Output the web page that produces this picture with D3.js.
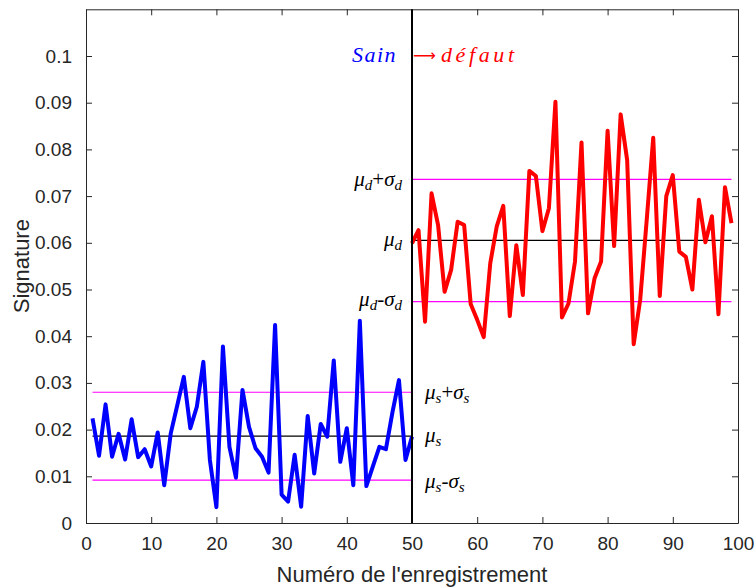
<!DOCTYPE html>
<html><head><meta charset="utf-8">
<script src="https://cdn.jsdelivr.net/npm/d3@7"></script>
<style>body{margin:0;background:#fff}svg{display:block}</style>
</head><body><svg id="c" width="755" height="587"></svg>
<script>
// ---- data ----
const sainX = d3.range(1, 51);
const sainY = [0.0224,0.0144,0.0254,0.0142,0.0191,0.0136,0.0222,0.0141,0.0158,0.0121,
  0.0194,0.0081,0.0192,0.0252,0.0313,0.0203,0.0249,0.0345,0.0135,0.0034,
  0.0378,0.0163,0.0097,0.0285,0.0206,0.0160,0.0142,0.0108,0.0424,0.0061,
  0.0046,0.0146,0.0035,0.0229,0.0106,0.0212,0.0185,0.0348,0.0131,0.0203,
  0.0081,0.0433,0.0079,0.0121,0.0163,0.0158,0.0237,0.0306,0.0135,0.0185];
const defautX = d3.range(50, 100);
const defautY = [0.0599,0.0627,0.0431,0.0706,0.0638,0.0495,0.0542,0.0645,0.0638,0.0469,
  0.0435,0.0398,0.0556,0.0635,0.0679,0.0443,0.0595,0.0488,0.0754,0.0743,
  0.0625,0.0674,0.0902,0.0440,0.0470,0.0560,0.0815,0.0449,0.0524,0.0560,
  0.0840,0.0593,0.0875,0.0777,0.0383,0.0478,0.0649,0.0825,0.0486,0.0700,
  0.0745,0.0581,0.0570,0.0500,0.0692,0.0601,0.0657,0.0447,0.0719,0.0642];
const muS = 0.0186, sigS = 0.0094;
const muD = 0.0605, sigD = 0.0131;
const xTicks = [0,10,20,30,40,50,60,70,80,90,100];
const xTickLabels = ["0","10","20","30","40","50","60","70","80","90","100"];
const yTicks = [0,0.01,0.02,0.03,0.04,0.05,0.06,0.07,0.08,0.09,0.1];
const yTickLabels = ["0","0.01","0.02","0.03","0.04","0.05","0.06","0.07","0.08","0.09","0.1"];
const xLabel = "Numéro de l'enregistrement";
const yLabel = "Signature";

// ---- layout ----
const L = 86, R = 738, T = 9.3, B = 523;
const svg = d3.select("#c");
const x = d3.scaleLinear().domain([0,100]).range([L,R]);
const y = d3.scaleLinear().domain([0,0.11]).range([B,T]);
const axisCol = "#262626";
const tickFont = "'Liberation Sans', Arial, Helvetica, sans-serif";

// axes with inward ticks
const gx = svg.append("g").attr("transform",`translate(0,${B})`)
  .call(d3.axisBottom(x).tickValues(xTicks).tickFormat((d,i)=>xTickLabels[i]).tickSizeInner(-6).tickSizeOuter(0).tickPadding(14));
const gxt = svg.append("g").attr("transform",`translate(0,${T})`)
  .call(d3.axisTop(x).tickValues(xTicks).tickFormat("").tickSizeInner(-6).tickSizeOuter(0));
const gy = svg.append("g").attr("transform",`translate(${L},0)`)
  .call(d3.axisLeft(y).tickValues(yTicks).tickFormat((d,i)=>yTickLabels[i]).tickSizeInner(-6).tickSizeOuter(0).tickPadding(14));
const gyr = svg.append("g").attr("transform",`translate(${R},0)`)
  .call(d3.axisRight(y).tickValues(yTicks).tickFormat("").tickSizeInner(-6).tickSizeOuter(0));
[gx,gxt,gy,gyr].forEach(g=>{
  g.select(".domain").attr("stroke",axisCol).attr("stroke-width",1);
  g.selectAll(".tick line").attr("stroke",axisCol).attr("stroke-width",1);
  g.selectAll("text").attr("fill",axisCol).style("font-family",tickFont).style("font-size","19px");
});

// axis labels
svg.append("text").attr("x",(L+R)/2).attr("y",582).attr("text-anchor","middle")
  .attr("fill",axisCol).style("font-family",tickFont).style("font-size","22px").text(xLabel);
svg.append("text").attr("transform",`translate(29,${(T+B)/2}) rotate(-90)`).attr("text-anchor","middle")
  .attr("fill",axisCol).style("font-family",tickFont).style("font-size","22px").text(yLabel);

// reference lines
const hl = (x0,x1,v,col)=>svg.append("line").attr("x1",x(x0)).attr("x2",x(x1)).attr("y1",y(v)).attr("y2",y(v))
  .attr("stroke",col).attr("stroke-width",1.2);
hl(1,50,muS+sigS,"#ff00ff"); hl(1,50,muS-sigS,"#ff00ff"); hl(1,50,muS,"#000");
hl(50,99,muD+sigD,"#ff00ff"); hl(50,99,muD-sigD,"#ff00ff"); hl(50,99,muD,"#000");

// series
const line = d3.line().x(d=>x(d[0])).y(d=>y(d[1]));
svg.append("path").datum(sainX.map((d,i)=>[d,sainY[i]])).attr("d",line)
  .attr("fill","none").attr("stroke","#0000ff").attr("stroke-width",4).attr("stroke-linejoin","round");
svg.append("path").datum(defautX.map((d,i)=>[d,defautY[i]])).attr("d",line)
  .attr("fill","none").attr("stroke","#ff0000").attr("stroke-width",4).attr("stroke-linejoin","round");

// separator
svg.append("line").attr("x1",x(50)).attr("x2",x(50)).attr("y1",B).attr("y2",T)
  .attr("stroke","#000").attr("stroke-width",2);

// annotations
const serif = "'Liberation Serif','DejaVu Serif',serif";
svg.append("text").attr("x",397).attr("y",62).attr("text-anchor","end")
  .style("font-family",serif).style("font-style","italic").style("font-size","22px").attr("fill","#0000ff")
  .attr("letter-spacing","1.5").text("Sain");
svg.append("text").attr("x",413).attr("y",61).style("font-family","'DejaVu Sans',sans-serif")
  .style("font-size","16px").attr("fill","#ff0000").text("⟶");
svg.append("text").attr("x",441).attr("y",62).style("font-family",serif).style("font-style","italic")
  .style("font-size","22px").attr("fill","#ff0000").attr("letter-spacing","3.6").text("défaut");

function muLabel(xp, yp, anchor, sub, op){
  const t = svg.append("text").attr("x",xp).attr("y",yp).attr("text-anchor",anchor)
    .style("font-family",serif).style("font-size","21px").attr("fill","#000");
  t.append("tspan").style("font-style","italic").text("μ");
  t.append("tspan").style("font-style","italic").style("font-size","15px").attr("dy",4).text(sub);
  if(op){
    t.append("tspan").attr("dy",-4).text(op);
    t.append("tspan").style("font-style","italic").text("σ");
    t.append("tspan").style("font-style","italic").style("font-size","15px").attr("dy",4).text(sub);
  }
}
muLabel(402, 186, "end", "d", "+");
muLabel(402, 246, "end", "d", null);
muLabel(402, 306, "end", "d", "-");
muLabel(425, 399, "start", "s", "+");
muLabel(425, 442, "start", "s", null);
muLabel(425, 488, "start", "s", "-");
</script></body></html>
